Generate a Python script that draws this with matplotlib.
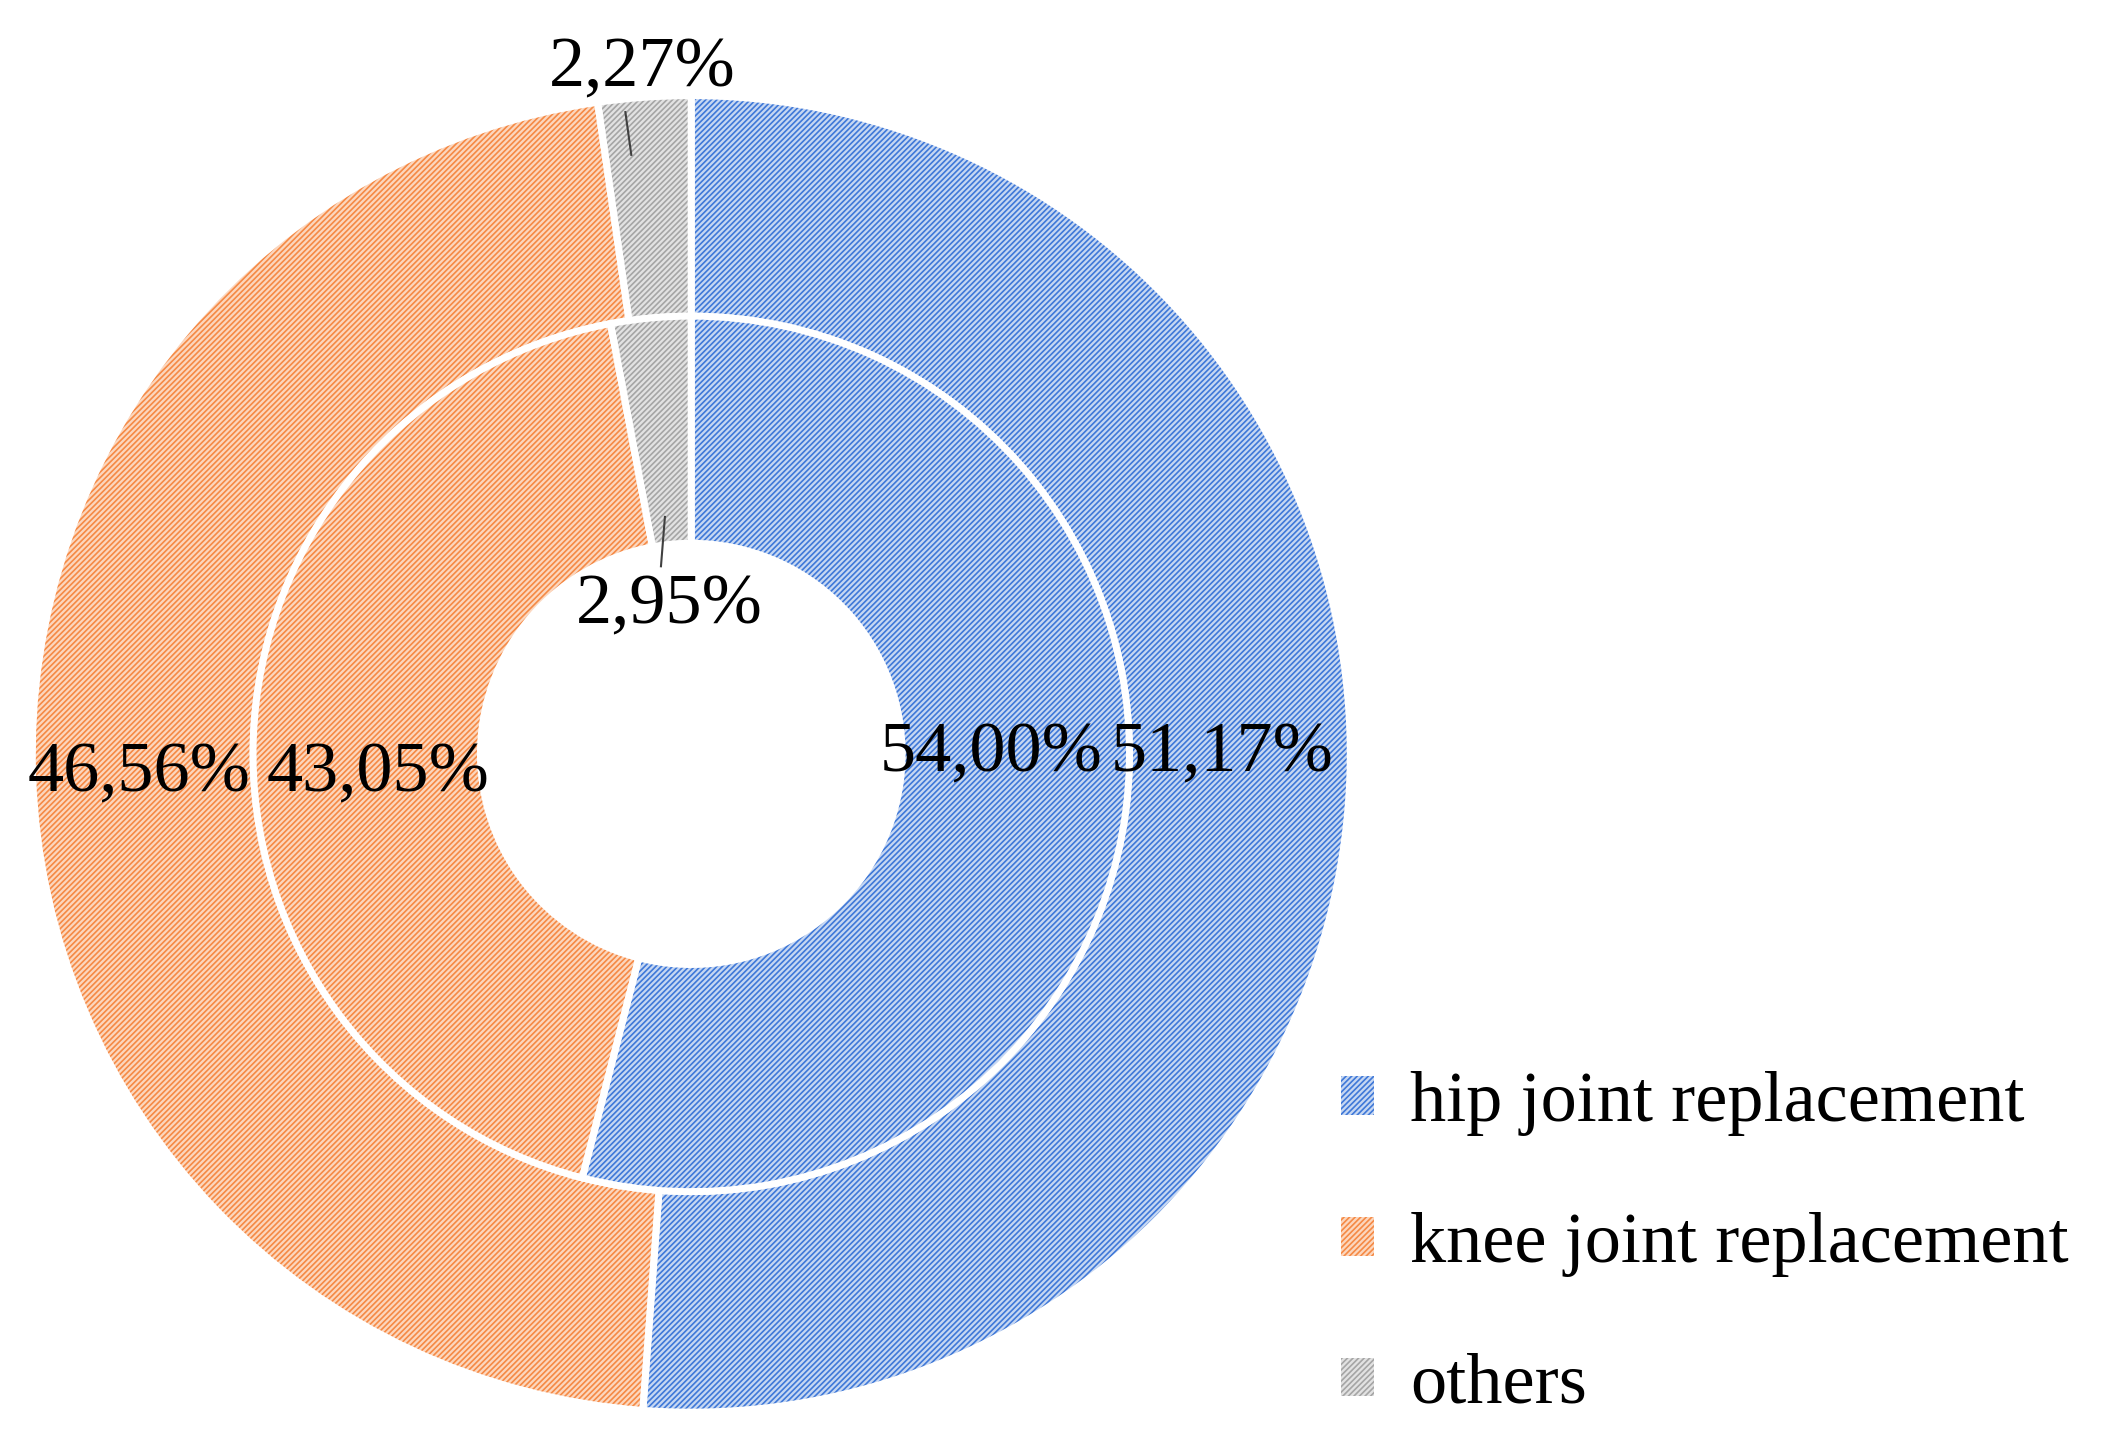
import matplotlib
matplotlib.use('Agg')
import matplotlib.pyplot as plt
from matplotlib.patches import Patch

categories = ['hip joint replacement', 'knee joint replacement', 'others']
outer_vals = [51.17, 46.56, 2.27]
inner_vals = [54.00, 43.05, 2.95]
outer_labels = ['51,17%', '46,56%', '2,27%']
inner_labels = ['54,00%', '43,05%', '2,95%']

main_cols = ['#3F78D8', '#F58A45', '#A5A5A5']
light_cols = ['#C6D7F2', '#FCD7BE', '#E2E2E2']

plt.rcParams['font.family'] = ['Liberation Serif', 'DejaVu Serif']
plt.rcParams['hatch.linewidth'] = 1.2

fig = plt.figure(figsize=(21.27, 14.47), dpi=100)
ax = fig.add_axes([0.325 - 0.316, 0.479 - 0.464, 0.632, 0.928])


def ring(vals, radius, width):
    # hatched fill first, white borders on top
    w, _ = ax.pie(vals, radius=radius, startangle=90, counterclock=False,
                  colors=light_cols, wedgeprops=dict(width=width, linewidth=0))
    for p, c in zip(w, main_cols):
        p.set_edgecolor(c)
        p.set_hatch('//////')
    ax.pie(vals, radius=radius, startangle=90, counterclock=False,
           wedgeprops=dict(width=width, fill=False, edgecolor='white', linewidth=5))


ring(outer_vals, 1.0, 0.335)
ring(inner_vals, 0.665, 0.345)
ax.set_xlim(-1.02, 1.02)
ax.set_ylim(-1.02, 1.02)
ax.set_aspect('auto')
ax.axis('off')

fs = 52
outer_pos = [(0.806, 0.0), (-0.838, -0.03), (-0.075, 1.04)]
inner_pos = [(0.455, 0.0), (-0.475, -0.03), (-0.034, 0.225)]
for (x, y), t in zip(outer_pos, outer_labels):
    ax.text(x, y, t, fontsize=fs, ha='center', va='center')
for (x, y), t in zip(inner_pos, inner_labels):
    ax.text(x, y, t, fontsize=fs, ha='center', va='center')
ax.plot([-0.091, -0.10], [0.91, 0.975], color='#404040', lw=1.5)
ax.plot([-0.04, -0.046], [0.36, 0.285], color='#404040', lw=1.5)

handles = [Patch(facecolor=l, edgecolor=m, hatch='//////', linewidth=0)
           for l, m in zip(light_cols, main_cols)]
fig.legend(handles, categories, loc='center left', bbox_to_anchor=(0.6, 0.14),
           frameon=False, fontsize=fs, handlelength=0.45, handleheight=0.45,
           handletextpad=0.5, labelspacing=1.05)

fig.savefig('out.png', dpi=100)
